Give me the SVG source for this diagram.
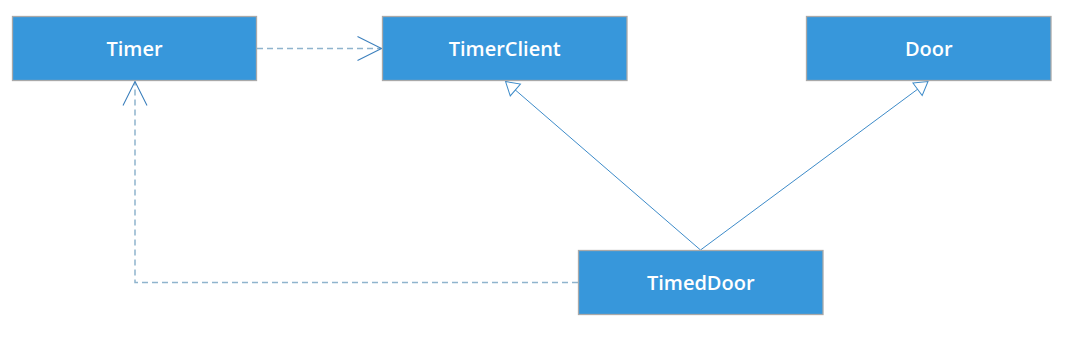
<svg xmlns="http://www.w3.org/2000/svg" width="1070" height="338" viewBox="0 0 1070 338">
<style>
.box{fill:#3797db;stroke:#a9a9a9;stroke-width:1.3}
.lbl{fill:#ffffff;font-family:"Open Sans","Noto Sans",sans-serif;font-size:20px;font-weight:600;text-anchor:middle}
.dash{fill:none;stroke:#8fb4cd;stroke-width:1.5;stroke-dasharray:6,4}
.solid{fill:none;stroke:#3d8bc9;stroke-width:1}
</style>
<defs>
<marker id="open" viewBox="0 0 26 26" refX="25" refY="13" markerWidth="26" markerHeight="26" markerUnits="userSpaceOnUse" orient="auto">
<path d="M1,1 L25,13 L1,25" fill="none" stroke="#3d80bd" stroke-width="1.1"/>
</marker>
<marker id="tri" viewBox="0 0 16 18" refX="15" refY="9" markerWidth="16" markerHeight="18" markerUnits="userSpaceOnUse" orient="auto">
<path d="M2,1.2 L15,9 L2,16.8 Z" fill="#ffffff" stroke="#3d8bc9" stroke-width="1"/>
</marker>
</defs>
<g id="connectors">
<line class="dash" x1="257" y1="48.5" x2="381.5" y2="48.5" marker-end="url(#open)"/>
<polyline class="dash" points="578,282.5 135,282.5 135,81.5" marker-end="url(#open)"/>
<line class="solid" x1="700.5" y1="250" x2="505.5" y2="81.5" marker-end="url(#tri)"/>
<line class="solid" x1="700.5" y1="250" x2="928" y2="81.5" marker-end="url(#tri)"/>
</g>
<g id="Timer">
<rect class="box" x="12.5" y="16.5" width="244" height="64"/>
<text class="lbl" x="134.5" y="55.5">Timer</text>
</g>
<g id="TimerClient">
<rect class="box" x="382.5" y="16.5" width="244.5" height="64"/>
<text class="lbl" x="504.75" y="55.5">TimerClient</text>
</g>
<g id="Door">
<rect class="box" x="806.5" y="16.5" width="244.5" height="64"/>
<text class="lbl" x="928.75" y="55.5">Door</text>
</g>
<g id="TimedDoor">
<rect class="box" x="578.5" y="250.5" width="244.5" height="64"/>
<text class="lbl" x="700.75" y="289.5">TimedDoor</text>
</g>
</svg>
